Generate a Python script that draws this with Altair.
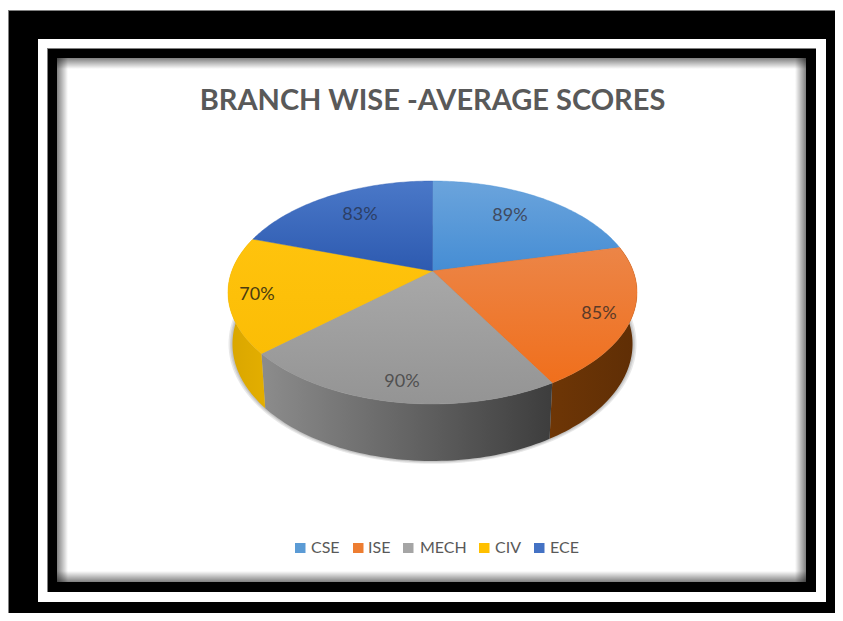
import numpy as np
import pandas as pd
import altair as alt

branches = ["CSE", "ISE", "MECH", "CIV", "ECE"]
scores = [89, 85, 90, 70, 83]
title_text = "BRANCH WISE -AVERAGE SCORES"

top_colors = [("#6ba4dc", "#458dd4"), ("#ec8547", "#f06f1c"), ("#a8a8a8", "#949494"),
              ("#ffc30d", "#fbbd05"), ("#4a78c8", "#2d5ab0")]
side_colors = {1: ("#6e3606", "#5f2e05"), 2: ("#8c8c8c", "#3d3d3d"), 3: ("#d9a600", "#e3ae00")}
legend_colors = ["#5b9bd5", "#ed7d31", "#a5a5a5", "#ffc000", "#4472c4"]

W, H, OX, OY = 827, 605, 8, 8
X = alt.X("x:Q", scale=alt.Scale(domain=[OX, OX + W]), axis=None)
Y = alt.Y("y:Q", scale=alt.Scale(domain=[OY + H, OY]), axis=None)

FONT = "Lato"

# perspective pie projection
CX, CY, A, B, K = 432.5, 271.0, 200.7, 107.35, 0.1928
def rim(theta):
    ux, uy = np.sin(theta), -np.cos(theta)
    d = 1 - K * uy
    return CX + A * ux / d, CY + B * uy / d

def lower(px, py):
    return CX + (px - CX) * 200 / 204.5, 344 + (py - 292.5) * 117 / 111.5

def poly(xs, ys, fill, stroke=None, sw=0.0, opacity=1.0):
    xs = list(xs) + [xs[0]]
    ys = list(ys) + [ys[0]]
    df = pd.DataFrame({"x": xs, "y": ys, "i": range(len(xs))})
    return alt.Chart(df).mark_line(
        fill=fill, stroke=stroke if stroke else "transparent", strokeWidth=sw,
        opacity=opacity, interpolate="linear", clip=False
    ).encode(x=X, y=Y, order=alt.Order("i:Q"))

def rect(x0, y0, x1, y1, fill):
    return alt.Chart(alt.Data(values=[{}])).mark_rect(fill=fill, strokeWidth=0).encode(
        x=alt.value(x0 - OX), x2=alt.value(x1 - OX), y=alt.value(y0 - OY), y2=alt.value(y1 - OY))

def grad(c0, c1, vertical=True):
    return alt.LinearGradient(
        gradient="linear",
        stops=[alt.GradientStop(offset=0, color=c0), alt.GradientStop(offset=1, color=c1)],
        x1=0, y1=0, x2=0 if vertical else 1, y2=1 if vertical else 0)

def label(x, y, text, size, color, weight="normal", align="center"):
    return alt.Chart(alt.Data(values=[{}])).mark_text(
        text=text, font=FONT, fontSize=size, color=color, fontWeight=weight,
        align=align, baseline="middle"
    ).encode(x=alt.value(x - OX), y=alt.value(y - OY))

layers = []
# frame
layers += [rect(8, 10, 843, 621, "#808080"), rect(9, 11, 843, 621, "#000000"),
           rect(38, 39, 826, 602, "#ffffff"), rect(47, 48, 816, 592, "#808080"),
           rect(48, 49, 816, 592, "#000000"), rect(57, 58, 806, 582, "#ffffff")]
shade0, shade1 = "rgba(0,0,0,0.5)", "rgba(0,0,0,0)"
bw = 11
layers += [rect(57, 58, 57 + bw, 582, grad(shade0, shade1, False)),
           rect(806 - bw, 58, 806, 582, grad(shade1, shade0, False)),
           rect(57, 58, 806, 58 + bw, grad(shade0, shade1, True)),
           rect(57, 582 - bw, 806, 582, grad(shade1, shade0, True))]

# angles
vals = np.array(scores, dtype=float)
edges = np.concatenate([[0], np.cumsum(vals) / vals.sum() * 2 * np.pi])

# soft shadow under the disc
t = np.linspace(0, 2 * np.pi, 181)[:-1]
for d in (4, 2.5, 1.2):
    layers.append(poly(CX + (200 + d) * np.sin(t), 344 + (117 + d * 0.7) * np.cos(t),
                       "#404040", opacity=0.12))

# sides
for i, (c0, c1) in side_colors.items():
    th = np.linspace(edges[i], edges[i + 1], 60)
    px, py = rim(th)
    qx, qy = lower(px, py)
    layers.append(poly(np.concatenate([px, qx[::-1]]), np.concatenate([py, qy[::-1]]),
                       grad(c0, c1, False)))

# top faces
for i, (c0, c1) in enumerate(top_colors):
    th = np.linspace(edges[i], edges[i + 1], 80)
    px, py = rim(th)
    layers.append(poly(np.concatenate([[CX], px]), np.concatenate([[CY], py]),
                       grad(c0, c1), stroke=c1, sw=0.4))

# value labels
layers += [label(510, 216, f"{scores[0]}%", 18, "#404a60"),
           label(599, 314, f"{scores[1]}%", 18, "#5a3a28"),
           label(402, 382, f"{scores[2]}%", 18, "#505050"),
           label(257, 295, f"{scores[3]}%", 18, "#4a3c10"),
           label(360, 215, f"{scores[4]}%", 18, "#2c3f66")]

# title
layers.append(label(432.5, 101, title_text, 29, "#595959", weight="bold"))

# legend
sq = [295, 353, 403, 479, 534]
tx = [311, 368, 420, 495, 550]
for i, name in enumerate(branches):
    layers.append(rect(sq[i], 543, sq[i] + 10.5, 553, legend_colors[i]))
    layers.append(label(tx[i], 547.5, name, 16, "#595959", align="left"))

chart = alt.layer(*layers).properties(
    width=W, height=H, padding=0, autosize=alt.AutoSizeParams(type="none"),
    background="#ffffff"
).configure_view(stroke=None)

chart.save("out.html", embed_options={"renderer": "svg", "actions": False})
